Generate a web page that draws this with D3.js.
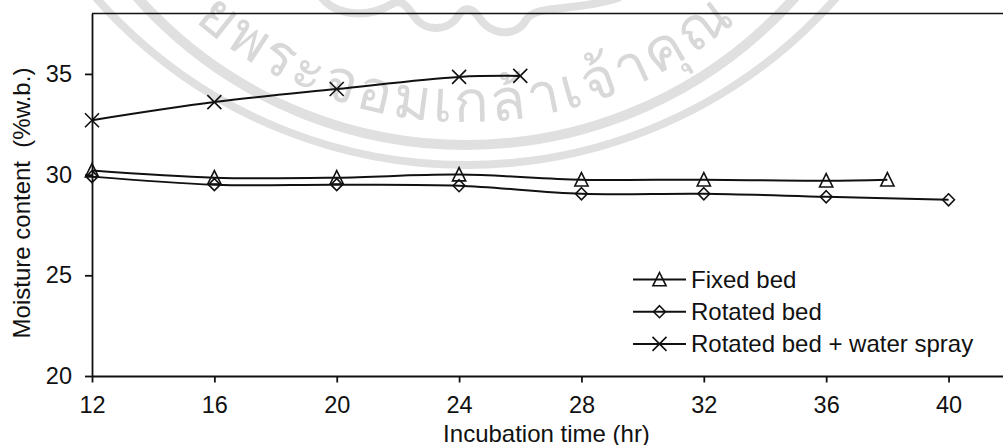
<!DOCTYPE html>
<html>
<head>
<meta charset="utf-8">
<script src="https://cdn.jsdelivr.net/npm/d3@7"></script>
<style>
body { margin: 0; background: #fff; }
text { font-family: "Liberation Sans", Arial, sans-serif; fill: #111; }
</style>
</head>
<body>
<svg id="chart"></svg>
<script>
var width = 1003, height = 445;

var xTicks = [12, 16, 20, 24, 28, 32, 36, 40];
var yTicks = [20, 25, 30, 35];

var fixedTime = [12, 16, 20, 24, 28, 32, 36, 38];
var fixedBed = [30.2, 29.85, 29.85, 30.0, 29.75, 29.75, 29.7, 29.75];
var rotatedTime = [12, 16, 20, 24, 28, 32, 36, 40];
var rotatedBed = [29.9, 29.5, 29.5, 29.45, 29.05, 29.05, 28.9, 28.75];
var sprayTime = [12, 16, 20, 24, 26];
var sprayBed = [32.7, 33.6, 34.25, 34.85, 34.9];

var legendLabels = ["Fixed bed", "Rotated bed", "Rotated bed + water spray"];
var symbols = ["triangle", "diamond", "cross"];

var svg = d3.select("#chart").attr("width", width).attr("height", height);

var x = d3.scaleLinear().domain([12, 41.78]).range([92, 1003]);
var y = d3.scaleLinear().domain([20, 38]).range([376, 13.5]);

// watermark seal behind the chart
var wm = svg.append("g").attr("fill", "none").attr("stroke", "#e0e0e0");
wm.append("circle").attr("cx", 466).attr("cy", -295).attr("r", 440).attr("stroke-width", 10);
wm.append("circle").attr("cx", 466).attr("cy", -328).attr("r", 493).attr("stroke-width", 8);
wm.append("path").attr("stroke-width", 8).attr("stroke-linecap", "round")
    .attr("d", "M322,-2C335,14 365,20 392,4C402,-2 408,8 414,16C424,32 448,32 458,16C464,6 472,8 478,16C490,36 516,38 526,20C536,4 575,12 618,-2");

svg.append("path").attr("id", "wmArc").attr("fill", "none")
    .attr("d", "M 66 -188 A 413 413 0 0 0 866 -188");
svg.append("text").style("font-size", "58px").style("fill", "#d8d8d8")
    .style("font-family", "'Noto Sans', 'DejaVu Sans', sans-serif")
    .style("letter-spacing", "3px")
  .append("textPath").attr("href", "#wmArc").attr("startOffset", "50%")
    .attr("text-anchor", "middle")
    .text("ยพระจอมเกล้าเจ้าคุณ");

// frame lines
svg.append("line").attr("x1", 92).attr("x2", 1003).attr("y1", y(38)).attr("y2", y(38))
    .attr("stroke", "#111").attr("stroke-width", 1.5);

var xAxis = svg.append("g").attr("transform", "translate(0," + y(20) + ")")
    .call(d3.axisBottom(x).tickValues(xTicks).tickSize(6.5).tickSizeOuter(0).tickPadding(14));
var yAxis = svg.append("g").attr("transform", "translate(" + x(12) + ",0)")
    .call(d3.axisLeft(y).tickValues(yTicks).tickSize(7).tickSizeOuter(0).tickPadding(13));
[xAxis, yAxis].forEach(function(a) {
    a.selectAll("path,line").attr("stroke", "#111").attr("stroke-width", 1.8);
    a.selectAll("text").style("font-size", "23.5px").style("font-family", "'Liberation Sans'");
});

svg.append("text").attr("x", 546.5).attr("y", 441.5).attr("text-anchor", "middle")
    .style("font-size", "24px").text("Incubation time (hr)");
svg.append("text").attr("transform", "translate(30,203) rotate(-90)").attr("text-anchor", "middle")
    .style("font-size", "24px").style("white-space", "pre").text("Moisture content  (%w.b.)");

function marker(g, kind, cx, cy) {
    var s = g.append("path").attr("transform", "translate(" + cx + "," + cy + ")")
        .attr("fill", "none").attr("stroke", "#111").attr("stroke-width", 1.6);
    if (kind == "triangle") s.attr("d", "M0,-7L6.6,6.3L-6.6,6.3Z");
    if (kind == "diamond") s.attr("d", "M0,-6L5.9,0L0,6L-5.9,0Z");
    if (kind == "cross") s.attr("d", "M-7,-7L7,7M-7,7L7,-7");
}

var line = d3.line().curve(d3.curveCatmullRom.alpha(0.5));

function drawSeries(times, values, kind) {
    var pts = times.map(function(t, i) { return [x(t), y(values[i])]; });
    var g = svg.append("g");
    g.append("path").attr("d", line(pts)).attr("fill", "none")
        .attr("stroke", "#111").attr("stroke-width", 2);
    pts.forEach(function(p) { marker(g, kind, p[0], p[1]); });
}
drawSeries(fixedTime, fixedBed, symbols[0]);
drawSeries(rotatedTime, rotatedBed, symbols[1]);
drawSeries(sprayTime, sprayBed, symbols[2]);

// legend
legendLabels.forEach(function(label, i) {
    var ly = 279.5 + i * 32.2;
    var g = svg.append("g");
    g.append("line").attr("x1", 633).attr("x2", 686).attr("y1", ly).attr("y2", ly)
        .attr("stroke", "#111").attr("stroke-width", 2);
    marker(g, symbols[i], 659.5, ly);
    g.append("text").attr("x", 691).attr("y", ly + 8.5).style("font-size", "24px").text(label);
});
</script>
</body>
</html>
